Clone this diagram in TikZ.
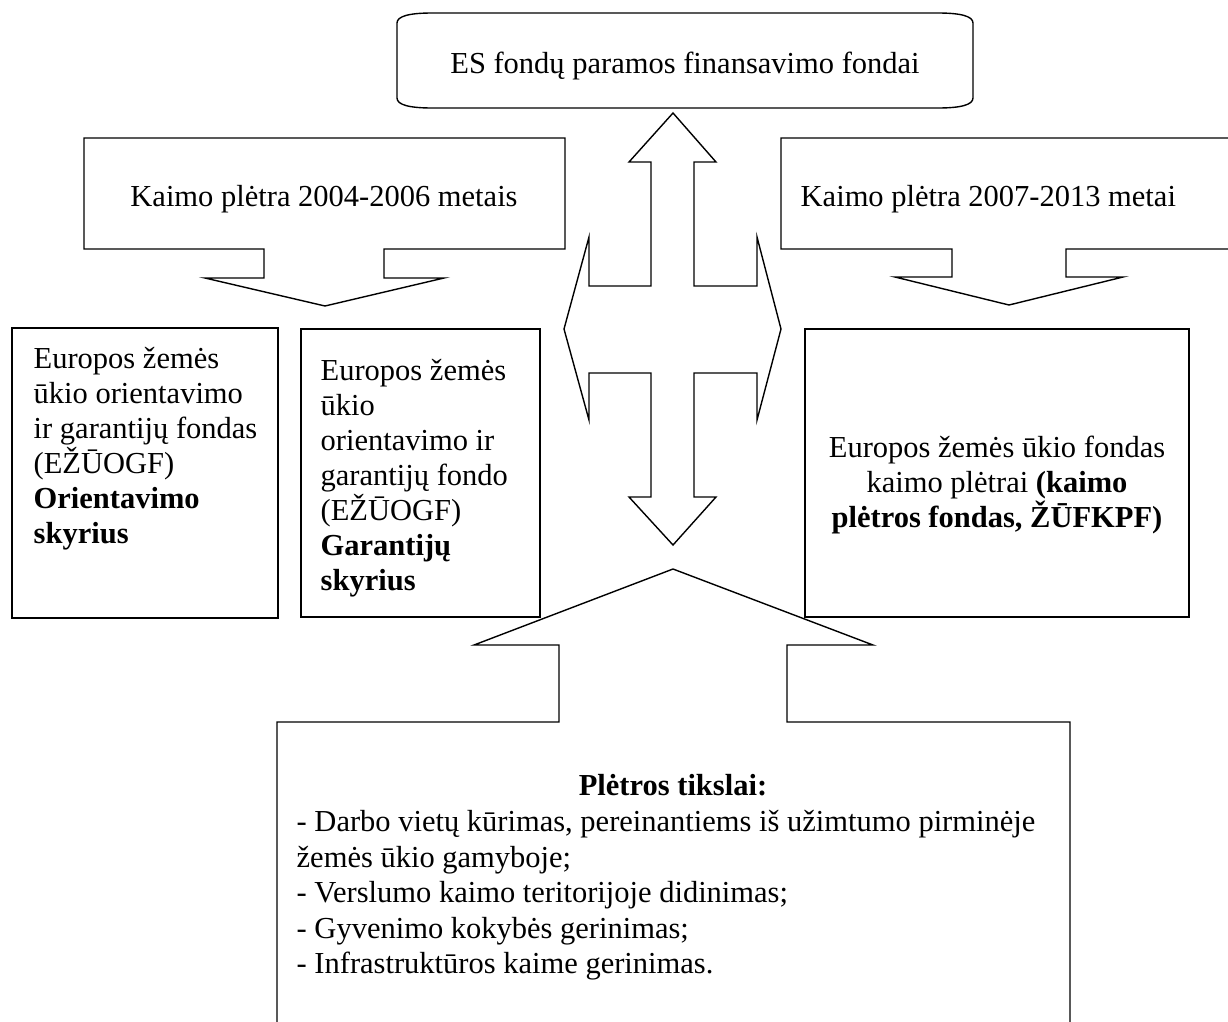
\documentclass[tikz,border=0pt]{standalone}
\usepackage{fontspec}
\setmainfont{Liberation Serif}
\begin{document}
\begin{tikzpicture}[x=1pt,y=-1pt,line width=1.4pt,
  shp/.style={draw=black,fill=white,line join=miter},
  t/.style={inner sep=0pt,anchor=base,font=\fontsize{30.5}{35}\selectfont},
  tl/.style={t,anchor=base west},
  tlb/.style={tl,font=\fontsize{30.5}{35}\selectfont\bfseries}]
\useasboundingbox (0,0) rectangle (1228,1021);
\clip (0,0) rectangle (1228,1021);
\fill[white] (0,0) rectangle (1228,1021);

% top rounded box
\draw[shp] (432,13) -- (938,13) .. controls (960,13) and (973,16) .. (973,23)
  -- (973,98) .. controls (973,105) and (960,108) .. (938,108)
  -- (432,108) .. controls (410,108) and (397,105) .. (397,98)
  -- (397,23) .. controls (397,16) and (410,13) .. (432,13) -- cycle;
\node[t] (top) at (685,73) {ES fondų paramos finansavimo fondai};

% left callout
\draw[shp] (84,138) -- (565,138) -- (565,249) -- (384,249) -- (384,278) -- (444,278)
  -- (325,306) -- (205,278) -- (264,278) -- (264,249) -- (84,249) -- cycle;
\node[t] (lc) at (324,206) {Kaimo plėtra 2004-2006 metais};

% right callout
\draw[shp] (781,138) -- (1240,138) -- (1240,249) -- (1066,249) -- (1066,277) -- (1123,277)
  -- (1009,305) -- (895,277) -- (952,277) -- (952,249) -- (781,249) -- cycle;
\node[tl] (rc) at (800,206) {Kaimo plėtra 2007-2013 metai};

% four-way arrow
\draw[shp] (673,113) -- (716,162) -- (694,162) -- (694,286) -- (757,286) -- (757,237)
  -- (781,329) -- (757,420) -- (757,373) -- (694,373) -- (694,497) -- (716,497)
  -- (673,545) -- (629,497) -- (651,497) -- (651,373) -- (589,373) -- (589,420)
  -- (564,329) -- (589,237) -- (589,286) -- (651,286) -- (651,162) -- (629,162) -- cycle;

% left box
\draw[shp] (12,328) rectangle (278,618);
\node[tl] (l1) at (33,368) {Europos žemės};
\node[tl] (l2) at (33,403) {ūkio orientavimo};
\node[tl] (l3) at (33,438) {ir garantijų fondas};
\node[tl] (l4) at (33,473) {(EŽŪOGF)};
\node[tlb] (l5) at (33,508) {Orientavimo};
\node[tlb] (l6) at (33,543) {skyrius};

% middle box
\draw[shp] (301,329) rectangle (540,617);
\node[tl] (m1) at (320,380) {Europos žemės};
\node[tl] (m2) at (320,415) {ūkio};
\node[tl] (m3) at (320,450) {orientavimo ir};
\node[tl] (m4) at (320,485) {garantijų fondo};
\node[tl] (m5) at (320,520) {(EŽŪOGF)};
\node[tlb] (m6) at (320,555) {Garantijų};
\node[tlb] (m7) at (320,590) {skyrius};

% right box
\draw[shp] (805,329) rectangle (1189,617);
\node[t] (r1) at (997,457) {Europos žemės ūkio fondas};
\node[t] (r2) at (997,492) {kaimo plėtrai \textbf{(kaimo}};
\node[t] (r3) at (997,527) {\textbf{plėtros fondas, ŽŪFKPF)}};

% bottom callout
\draw[shp] (673,569) -- (873,645) -- (787,645) -- (787,722) -- (1070,722) -- (1070,1040)
  -- (277,1040) -- (277,722) -- (559,722) -- (559,645) -- (474,645) -- cycle;
\node[t,font=\fontsize{30.5}{35}\selectfont\bfseries] (bh) at (673,795) {Plėtros tikslai:};
\node[tl] (b1) at (296,831) {- Darbo vietų kūrimas, pereinantiems iš užimtumo pirminėje};
\node[tl] (b2) at (296,867) {žemės ūkio gamyboje;};
\node[tl] (b3) at (296,902) {- Verslumo kaimo teritorijoje didinimas;};
\node[tl] (b4) at (296,938) {- Gyvenimo kokybės gerinimas;};
\node[tl] (b5) at (296,973) {- Infrastruktūros kaime gerinimas.};
\end{tikzpicture}
\end{document}
